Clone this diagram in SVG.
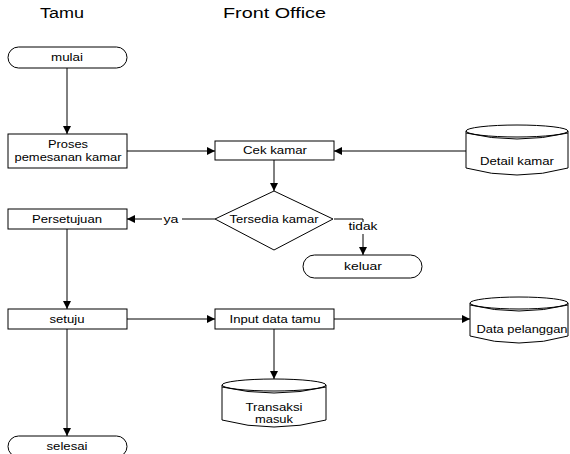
<svg xmlns="http://www.w3.org/2000/svg" width="570" height="454" viewBox="0 0 570 454">
<style>
.s{fill:#fff;stroke:#000;stroke-width:1}
.c{fill:none;stroke:#000;stroke-width:1}
text{font-family:"Liberation Sans",Arial,sans-serif;font-size:11px;fill:#000;text-anchor:middle}
.h{font-size:14px;text-anchor:start}
</style>
<defs>
<marker id="a" markerUnits="userSpaceOnUse" markerWidth="10" markerHeight="10" refX="8" refY="4" orient="auto">
<path d="M0,0 L8,4 L0,8 Z" fill="#000"/>
</marker>
</defs>
<text class="h" x="40" y="18" textLength="44" lengthAdjust="spacingAndGlyphs">Tamu</text>
<text class="h" x="223" y="18" textLength="103" lengthAdjust="spacingAndGlyphs">Front Office</text>
<g id="connectors">
<path class="c" d="M67,68 V134" marker-end="url(#a)"/>
<path class="c" d="M127,151 H215" marker-end="url(#a)"/>
<path class="c" d="M466,151 H334" marker-end="url(#a)"/>
<path class="c" d="M274,160 V191" marker-end="url(#a)"/>
<path class="c" d="M215,219 H182 M162,219 H127" marker-end="url(#a)"/>
<path class="c" d="M334,219 H363 V222 M363,234 V255" marker-end="url(#a)"/>
<path class="c" d="M67,229 V309" marker-end="url(#a)"/>
<path class="c" d="M127,319 H215" marker-end="url(#a)"/>
<path class="c" d="M334,319 H470" marker-end="url(#a)"/>
<path class="c" d="M274,329 V379" marker-end="url(#a)"/>
<path class="c" d="M67,329 V436" marker-end="url(#a)"/>
<text x="171" y="223" textLength="15" lengthAdjust="spacingAndGlyphs">ya</text>
<text x="363" y="230" textLength="29" lengthAdjust="spacingAndGlyphs">tidak</text>
</g>
<g id="mulai">
<rect class="s" x="8" y="47" width="119" height="21" rx="10.5"/>
<text x="67" y="61" textLength="32" lengthAdjust="spacingAndGlyphs">mulai</text>
</g>
<g id="proses">
<rect class="s" x="8" y="134" width="119" height="34"/>
<text x="68" y="148" textLength="40" lengthAdjust="spacingAndGlyphs">Proses</text>
<text x="68" y="161" textLength="107" lengthAdjust="spacingAndGlyphs">pemesanan kamar</text>
</g>
<g id="cek">
<rect class="s" x="215" y="141" width="119" height="19"/>
<text x="275" y="154" textLength="64" lengthAdjust="spacingAndGlyphs">Cek kamar</text>
</g>
<g id="detail">
<path class="s" d="M466,131 V168 Q517,182 568,168 V131"/>
<ellipse class="s" cx="517" cy="131" rx="51" ry="6"/>
<path class="c" d="M466,133 Q517,145 568,133"/>
<text x="517" y="165" textLength="74" lengthAdjust="spacingAndGlyphs">Detail kamar</text>
</g>
<g id="tersedia">
<path class="s" d="M274,191 L333,219 L274,250 L215,219 Z"/>
<text x="274" y="223" textLength="89" lengthAdjust="spacingAndGlyphs">Tersedia kamar</text>
</g>
<g id="persetujuan">
<rect class="s" x="8" y="209" width="119" height="20"/>
<text x="67" y="223" textLength="70" lengthAdjust="spacingAndGlyphs">Persetujuan</text>
</g>
<g id="keluar">
<rect class="s" x="303" y="255" width="119" height="23" rx="11.5"/>
<text x="363" y="270" textLength="38" lengthAdjust="spacingAndGlyphs">keluar</text>
</g>
<g id="setuju">
<rect class="s" x="8" y="309" width="119" height="20"/>
<text x="67" y="323" textLength="35" lengthAdjust="spacingAndGlyphs">setuju</text>
</g>
<g id="input">
<rect class="s" x="215" y="309" width="119" height="20"/>
<text x="275" y="323" textLength="91" lengthAdjust="spacingAndGlyphs">Input data tamu</text>
</g>
<g id="pelanggan">
<path class="s" d="M470,303 V336 Q519,350 568,336 V303"/>
<ellipse class="s" cx="519" cy="303" rx="49" ry="6"/>
<path class="c" d="M470,305 Q519,317 568,305"/>
<text x="522" y="333" textLength="91" lengthAdjust="spacingAndGlyphs">Data pelanggan</text>
</g>
<g id="transaksi">
<path class="s" d="M222,385 V420 Q274,434 326,420 V385"/>
<ellipse class="s" cx="274" cy="385" rx="52" ry="6"/>
<path class="c" d="M222,387 Q274,399 326,387"/>
<text x="274" y="411" textLength="57" lengthAdjust="spacingAndGlyphs">Transaksi</text>
<text x="274" y="423" textLength="38" lengthAdjust="spacingAndGlyphs">masuk</text>
</g>
<g id="selesai">
<rect class="s" x="8" y="436" width="119" height="21" rx="10.5"/>
<text x="67" y="450" textLength="41" lengthAdjust="spacingAndGlyphs">selesai</text>
</g>
</svg>
